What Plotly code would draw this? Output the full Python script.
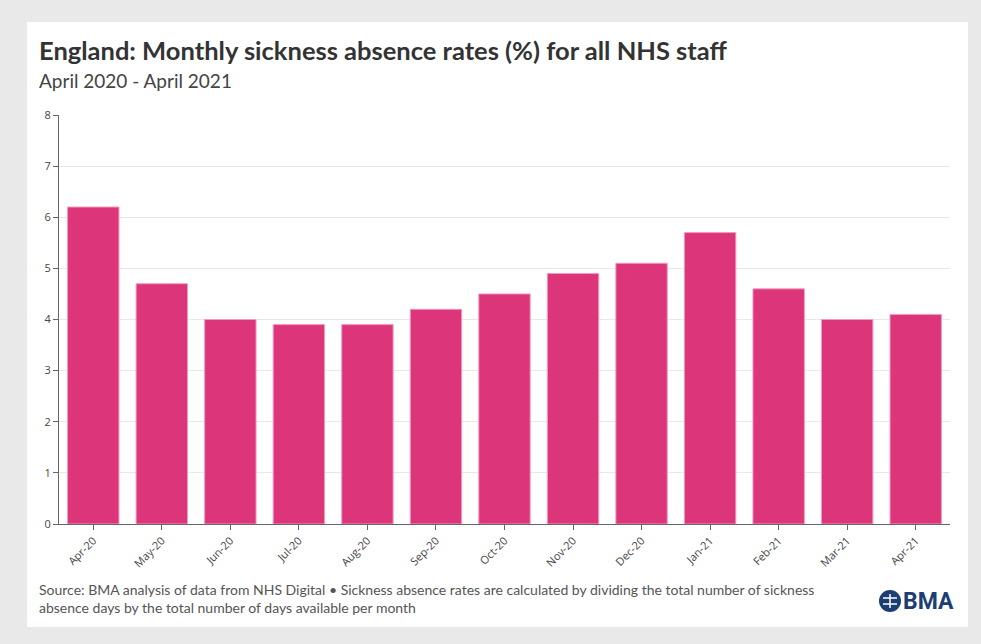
import plotly.graph_objects as go

months = ["Apr-20", "May-20", "Jun-20", "Jul-20", "Aug-20", "Sep-20", "Oct-20",
          "Nov-20", "Dec-20", "Jan-21", "Feb-21", "Mar-21", "Apr-21"]
rates = [6.2, 4.7, 4.0, 3.9, 3.9, 4.2, 4.5, 4.9, 5.1, 5.7, 4.6, 4.0, 4.1]
y_ticks = [0, 1, 2, 3, 4, 5, 6, 7, 8]

W, H = 981, 644
L, R, T, B = 59, 31, 115, 120
pw, ph = W - L - R, H - T - B

def px(x):
    return (x - L) / pw

def py(y):
    return (H - B - y) / ph

fig = go.Figure()
fig.add_trace(go.Bar(
    x=months, y=rates,
    marker=dict(color="#dc3579", line=dict(color="#f29bbd", width=1)),
    hoverinfo="x+y",
))

fig.update_layout(
    width=W, height=H,
    margin=dict(l=L, r=R, t=T, b=B),
    paper_bgcolor="#e9e9e9",
    plot_bgcolor="rgba(0,0,0,0)",
    bargap=0.25,
    showlegend=False,
    font=dict(family="Open Sans, sans-serif", color="#555"),
    xaxis=dict(
        type="category", range=[-0.5, 12.5],
        tickangle=-45, tickfont=dict(size=11, color="#444"),
        ticks="outside", ticklen=5, tickcolor="#666",
        showline=True, linecolor="#666", linewidth=1,
        showgrid=False, fixedrange=True,
    ),
    yaxis=dict(
        range=[0, 8], tickvals=y_ticks,
        tickfont=dict(size=11, color="#444"),
        ticks="outside", ticklen=5, tickcolor="#666",
        showline=True, linecolor="#666", linewidth=1,
        showgrid=True, gridcolor="#e8e8e8", gridwidth=1,
        zeroline=False, fixedrange=True,
    ),
    shapes=[
        dict(type="rect", xref="paper", yref="paper", layer="below",
             x0=px(27), x1=px(968), y0=py(627), y1=py(22),
             fillcolor="white", line=dict(width=0)),
        dict(type="circle", xref="paper", yref="paper",
             x0=px(879), x1=px(901), y0=py(612), y1=py(590),
             fillcolor="#1d3e72", line=dict(width=0)),
        dict(type="line", xref="paper", yref="paper",
             x0=px(883), x1=px(897), y0=py(598), y1=py(598),
             line=dict(color="white", width=1.5)),
        dict(type="line", xref="paper", yref="paper",
             x0=px(883), x1=px(897), y0=py(604), y1=py(604),
             line=dict(color="white", width=1.5)),
        dict(type="line", xref="paper", yref="paper",
             x0=px(890), x1=px(890), y0=py(594), y1=py(608),
             line=dict(color="white", width=1.5)),
    ],
    annotations=[
        dict(text="<b>England: Monthly sickness absence rates (%) for all NHS staff</b>",
             xref="paper", yref="paper", x=px(37), y=py(50), xanchor="left", yanchor="middle",
             showarrow=False, font=dict(family="Lato, sans-serif", size=25.5, color="#333")),
        dict(text="April 2020 - April 2021",
             xref="paper", yref="paper", x=px(37), y=py(80), xanchor="left", yanchor="middle",
             showarrow=False, font=dict(family="Lato, sans-serif", size=19, color="#444")),
        dict(text="Source: BMA analysis of data from NHS Digital • Sickness absence rates are calculated by dividing the total number of sickness<br>absence days by the total number of days available per month",
             xref="paper", yref="paper", x=px(37), y=py(598), xanchor="left", yanchor="middle",
             align="left", showarrow=False,
             font=dict(family="Lato, sans-serif", size=14, color="#555")),
        dict(text="<b>BMA</b>",
             xref="paper", yref="paper", x=px(901), y=py(601), xanchor="left", yanchor="middle",
             showarrow=False, font=dict(family="Roboto, sans-serif", size=23, color="#1d3e72")),
    ],
)

fig.write_html(
    "out.html",
    config={"displayModeBar": False},
    post_script="document.body.style.margin='0';document.body.style.background='#e9e9e9';",
)
